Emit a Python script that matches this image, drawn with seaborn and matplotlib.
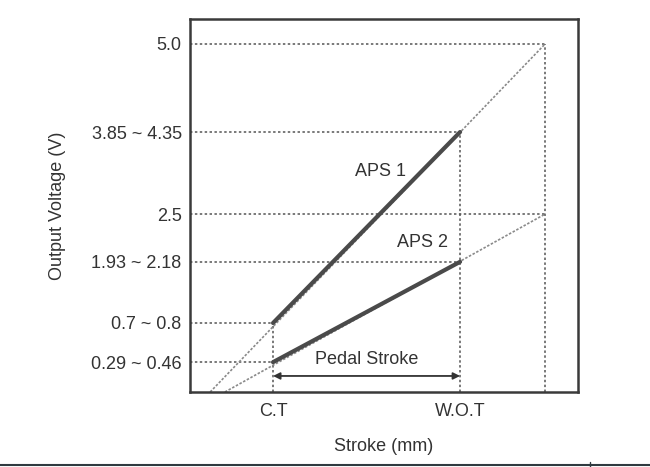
import numpy as np
import pandas as pd
import matplotlib
matplotlib.use("Agg")
import matplotlib.pyplot as plt
import seaborn as sns
from matplotlib.lines import Line2D

# positions on a 0-100 schematic scale
ct_x = 21.4
wot_x = 69.6
full_x = 91.5

y_ticks = [93.3, 69.7, 47.7, 34.9, 18.5, 8.0]
y_labels = ["5.0", "3.85 ~ 4.35", "2.5", "1.93 ~ 2.18", "0.7 ~ 0.8", "0.29 ~ 0.46"]
x_ticks = [ct_x, wot_x]
x_labels = ["C.T", "W.O.T"]

# APS lines: full (thin) and pedal range (thick)
aps1_x = [5.2, full_x]
aps1_y = [0.0, 93.3]
aps1_x_thick = [ct_x, wot_x]
aps1_y_thick = [18.5, 69.7]
aps2_x = [9.0, full_x]
aps2_y = [0.0, 47.7]
aps2_x_thick = [ct_x, wot_x]
aps2_y_thick = [8.0, 34.9]

# reference guides: (y, x end)
h_guides_y = [93.3, 69.7, 47.7, 34.9, 18.5, 8.0]
h_guides_x = [full_x, wot_x, full_x, wot_x, ct_x, ct_x]
v_guides_x = [ct_x, wot_x, full_x]
v_guides_y = [18.5, 69.7, 93.3]

sns.set_theme(style="white")
plt.rcParams['font.family'] = ['Liberation Sans', 'DejaVu Sans']
txt = "#333333"
fs = 13

fig = plt.figure(figsize=(6.5, 4.67), dpi=100)
ax = fig.add_axes([0.2923, 0.1606, 0.597, 0.7987])
ax.set_xlim(0, 100)
ax.set_ylim(0, 100)

dot = (0, (1.6, 1.6))
for y, xe in zip(h_guides_y, h_guides_x):
    ax.plot([0, xe], [y, y], color="#555555", lw=1.1, ls=dot)
for x, ye in zip(v_guides_x, v_guides_y):
    ax.plot([x, x], [0, ye], color="#555555", lw=1.1, ls=dot)

thin = pd.DataFrame({"x": aps1_x + aps2_x, "y": aps1_y + aps2_y,
                     "s": ["APS 1"] * 2 + ["APS 2"] * 2})
thick = pd.DataFrame({"x": aps1_x_thick + aps2_x_thick, "y": aps1_y_thick + aps2_y_thick,
                      "s": ["APS 1"] * 2 + ["APS 2"] * 2})
sns.lineplot(data=thin, x="x", y="y", units="s", estimator=None, color="#8a8a8a",
             lw=1.2, ax=ax, dashes=False, linestyle=(0, (1.5, 1)))
sns.lineplot(data=thick, x="x", y="y", units="s", estimator=None, color="#4a4a4a",
             lw=3.0, ax=ax)

ax.annotate("", xy=(ct_x, 4.3), xytext=(wot_x, 4.3),
            arrowprops=dict(arrowstyle="<|-|>", color="#333333", lw=1.3,
                            mutation_scale=10, shrinkA=0, shrinkB=0))
ax.text(45.6, 8.8, "Pedal Stroke", ha="center", va="center", fontsize=fs, color=txt)
ax.text(49.0, 59.0, "APS 1", ha="center", va="center", fontsize=fs, color=txt)
ax.text(60.0, 40.2, "APS 2", ha="center", va="center", fontsize=fs, color=txt)

ax.set_yticks(y_ticks, y_labels)
ax.set_xticks(x_ticks, x_labels)
ax.tick_params(axis="both", length=0, labelsize=fs, colors=txt)
ax.tick_params(axis="y", pad=6)
ax.tick_params(axis="x", pad=8)
ax.set_xlabel("Stroke (mm)", fontsize=fs, color=txt, labelpad=13)
ax.set_ylabel("Output Voltage (V)", fontsize=fs, color=txt, labelpad=18)
for sp in ax.spines.values():
    sp.set_color("#3a3a3a")
    sp.set_linewidth(1.8)
    sp.set_visible(True)

fig.add_artist(Line2D([0, 1], [0.0043, 0.0043], color="#2f3a40", lw=1.5,
                      transform=fig.transFigure))
fig.add_artist(Line2D([590 / 650, 590 / 650], [0, 0.01], color="#2f3a40", lw=1.0,
                      transform=fig.transFigure))

fig.savefig("out.png", dpi=100)
